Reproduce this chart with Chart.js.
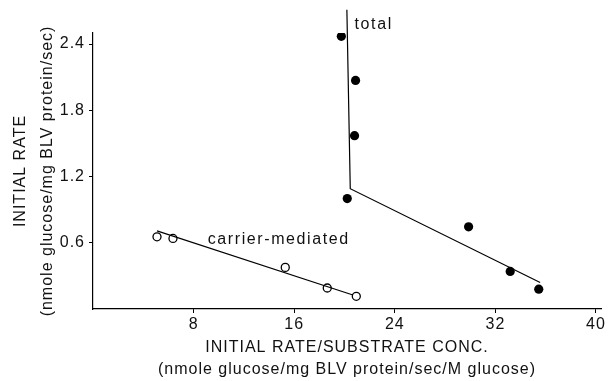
<!DOCTYPE html>
<html lang="en">
  <head>
    <meta charset="UTF-8" />
    <meta name="viewport" content="width=device-width, initial-scale=1.0" />
    <title>Initial rate vs rate/substrate</title>
    <script src="https://cdn.jsdelivr.net/npm/chart.js"></script>
    <style>
      body {
        margin: 0;
        background: #fff;
      }
      .chart-box {
        width: 608px;
        height: 381px;
      }
    </style>
  </head>
  <body>
    <div class="chart-box">
      <canvas id="myChart"></canvas>
    </div>
    <script>
      // total (filled circles)
      const totalX = [19.75, 20.88, 20.8, 20.22, 29.87, 33.18, 35.45];
      const totalY = [2.47, 2.07, 1.57, 1.0, 0.744, 0.34, 0.18];
      const totalLineX = [20.19, 20.46, 35.56];
      const totalLineY = [2.71, 1.09, 0.24];
      // carrier-mediated (open circles)
      const carrierX = [5.09, 6.36, 15.29, 18.63, 20.94];
      const carrierY = [0.654, 0.639, 0.377, 0.19, 0.115];
      const carrierLineX = [5.09, 20.67];
      const carrierLineY = [0.708, 0.127];
      // axis ticks
      const xTicks = [8, 16, 24, 32, 40];
      const yTicks = [0.6, 1.2, 1.8, 2.4];
      // curve labels (text + where it sits, in data units)
      const curveNames = ["total", "carrier-mediated"];
      const curveNameX = [20.8, 9.12];
      const curveNameY = [2.58, 0.633];

      const toPoints = (xs, ys) => xs.map((x, i) => ({ x: x, y: ys[i] }));
      const FONT = "'Liberation Sans', Arial, sans-serif";

      const textPlugin = {
        id: "textPlugin",
        beforeDraw(chart) {
          chart.ctx.letterSpacing = "1px";
        },
        afterDatasetsDraw(chart) {
          const ctx = chart.ctx;
          ctx.save();
          ctx.font = "16px " + FONT;
          ctx.letterSpacing = "1.6px";
          ctx.fillStyle = "#111";
          ctx.textAlign = "left";
          ctx.textBaseline = "middle";
          curveNames.forEach(function (t, i) {
            ctx.fillText(
              t,
              chart.scales.x.getPixelForValue(curveNameX[i]),
              chart.scales.y.getPixelForValue(curveNameY[i])
            );
          });
          ctx.restore();
        },
      };

      const ctx = document.getElementById("myChart");
      new Chart(ctx, {
        type: "scatter",
        data: {
          datasets: [
            {
              label: "total line",
              type: "line",
              data: toPoints(totalLineX, totalLineY),
              borderColor: "#000",
              borderWidth: 1.2,
              pointRadius: 0,
              clip: false,
            },
            {
              label: "carrier line",
              type: "line",
              data: toPoints(carrierLineX, carrierLineY),
              borderColor: "#000",
              borderWidth: 1.2,
              pointRadius: 0,
            },
            {
              label: "total",
              data: toPoints(totalX, totalY),
              pointRadius: 4.6,
              pointBackgroundColor: "#000",
              pointBorderColor: "#000",
              pointBorderWidth: 0,
            },
            {
              label: "carrier-mediated",
              data: toPoints(carrierX, carrierY),
              pointRadius: 4,
              pointBackgroundColor: "#fff",
              pointBorderColor: "#000",
              pointBorderWidth: 1.3,
            },
          ],
        },
        options: {
          responsive: true,
          maintainAspectRatio: false,
          animation: false,
          layout: {
            padding: { top: 33, right: 7, left: 0, bottom: 0 },
          },
          scales: {
            x: {
              type: "linear",
              min: 0,
              max: 40.4,
              afterBuildTicks: (axis) => {
                axis.ticks = xTicks.map((v) => ({ value: v }));
              },
              afterFit: (axis) => {
                axis.height = 72;
              },
              border: { display: true, color: "#000", width: 1.2 },
              grid: {
                drawOnChartArea: false,
                color: "#000",
                tickLength: 4,
              },
              ticks: {
                color: "#111",
                padding: 2,
                font: { family: FONT, size: 16 },
              },
              title: {
                display: true,
                text: [
                  "INITIAL RATE/SUBSTRATE CONC.",
                  "(nmole glucose/mg BLV protein/sec/M glucose)",
                ],
                color: "#111",
                font: { family: FONT, size: 16, lineHeight: 1.4 },
                padding: { top: 0, bottom: 0 },
              },
            },
            y: {
              type: "linear",
              min: 0,
              max: 2.5,
              afterBuildTicks: (axis) => {
                axis.ticks = yTicks.map((v) => ({ value: v }));
              },
              afterFit: (axis) => {
                axis.width = 93;
              },
              border: { display: true, color: "#000", width: 1.2 },
              grid: {
                drawOnChartArea: false,
                color: "#000",
                tickLength: 4,
              },
              ticks: {
                color: "#111",
                padding: 4,
                font: { family: FONT, size: 16 },
              },
              title: {
                display: true,
                text: ["INITIAL RATE", "(nmole glucose/mg BLV protein/sec)"],
                color: "#111",
                font: { family: FONT, size: 16, lineHeight: 1.7 },
                padding: { top: 7, bottom: 0 },
              },
            },
          },
          plugins: {
            legend: { display: false },
            tooltip: { enabled: false },
          },
        },
        plugins: [textPlugin],
      });
    </script>
  </body>
</html>
